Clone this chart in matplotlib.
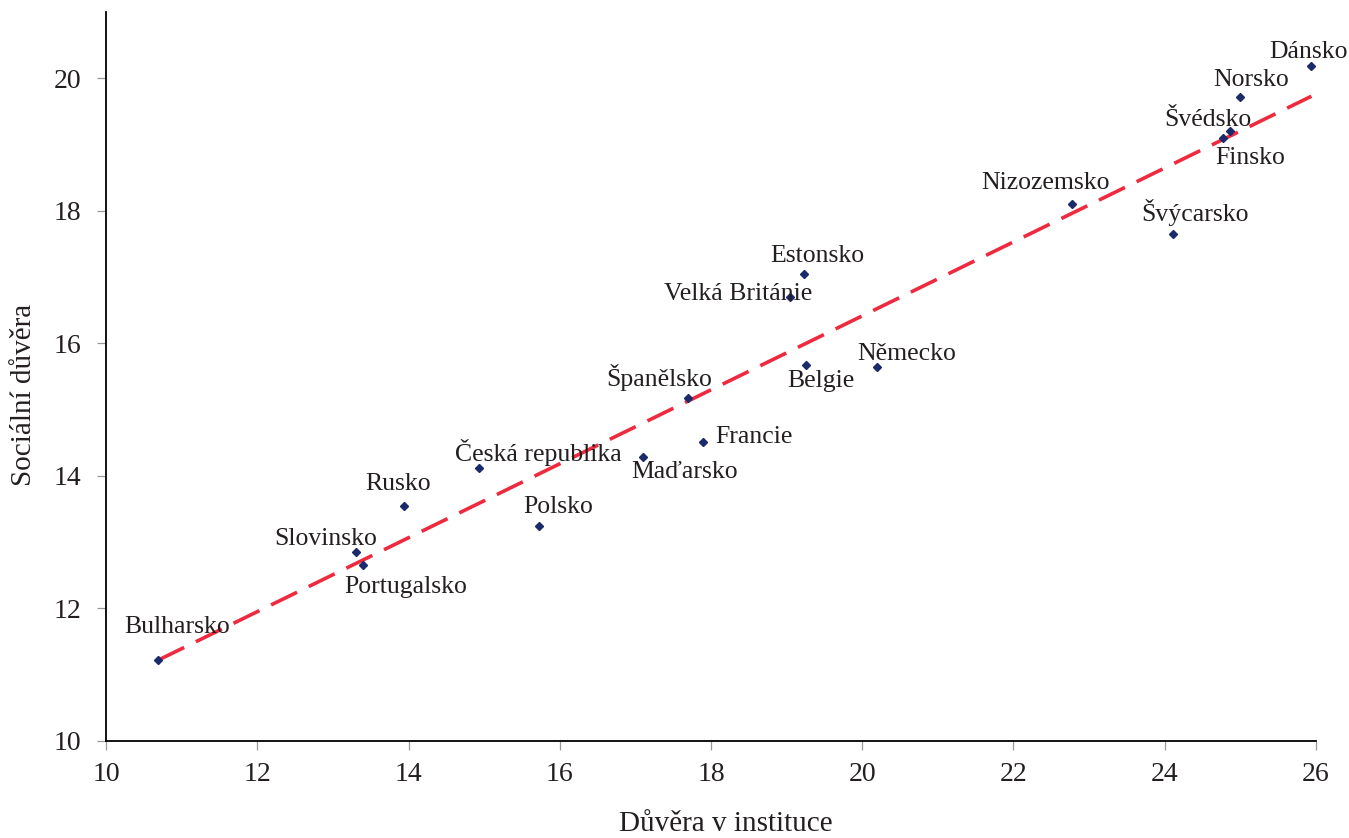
import numpy as np
import matplotlib
matplotlib.use("Agg")
import matplotlib.pyplot as plt

# důvěra v instituce (x) a sociální důvěra (y) podle zemí
countries = ["Dánsko", "Norsko", "Švédsko", "Finsko", "Švýcarsko", "Nizozemsko",
             "Estonsko", "Velká Británie", "Belgie", "Německo", "Španělsko",
             "Francie", "Maďarsko", "Česká republika", "Polsko", "Rusko",
             "Slovinsko", "Portugalsko", "Bulharsko"]
inst_trust = [25.94, 25.00, 24.87, 24.77, 24.11, 22.77,
              19.23, 19.05, 19.25, 20.19, 17.69,
              17.90, 17.10, 14.93, 15.73, 13.94,
              13.31, 13.40, 10.69]
social_trust = [20.18, 19.71, 19.20, 19.10, 17.65, 18.11,
                17.05, 16.70, 15.67, 15.65, 15.18,
                14.51, 14.29, 14.12, 13.25, 13.55,
                12.85, 12.65, 11.22]

# posun popisku od bodu v pixelech (x doprava, y nahoru k účaří)
label_dx = [-3, 11, -23, 27, 22, -26, 13, -52, 15, 30, -28, 51, 42, 60, 19, -6, -31, 43, 19]
label_dy = [8, 11, 5, -26, 13, 15, 12, -3, -22, 7, 12, -1, -21, 7, 13, 16, 7, -28, 27]

plt.rcParams['font.family'] = ['Liberation Serif', 'DejaVu Serif']
txt_col = '#231f20'

fig = plt.figure(figsize=(13.49, 8.38), dpi=100)
ax = fig.add_axes([0.0786, 0.1158, 0.8969, 0.8699])

x = np.array(inst_trust)
y = np.array(social_trust)

# lineární trend
k, q = np.polyfit(x, y, 1)
xt = np.array([x.min(), x.max()])
ax.plot(xt, k * xt + q, color='#ee2b3e', lw=2.6, linestyle=(0, (8, 3.6)), zorder=2)

ax.plot(x, y, linestyle='none', marker='D', ms=3.6, color='#1b2a6b', zorder=3)

for name, xi, yi, dx, dy in zip(countries, x, y, label_dx, label_dy):
    ax.annotate(name, (xi, yi), xytext=(dx, dy), textcoords='offset pixels',
                ha='center', va='baseline', fontsize=18.5, color=txt_col)

ax.set_xlim(10, 26)
ax.set_ylim(10, 21)
ax.set_xticks(np.arange(10, 27, 2))
ax.set_yticks(np.arange(10, 21, 2))

for s in ['top', 'right']:
    ax.spines[s].set_visible(False)
for s in ['left', 'bottom']:
    ax.spines[s].set_linewidth(1.3)
    ax.spines[s].set_color('black')

ax.tick_params(axis='both', direction='out', length=6.5, width=0.9, color='#999999',
               labelsize=20, labelcolor=txt_col)
ax.tick_params(axis='x', pad=9)
ax.tick_params(axis='y', pad=11)

# popisky os
fig.text(726 / 1349, 1 / 838, 'Důvěra v instituce', ha='center', va='bottom',
         fontsize=21, color=txt_col)
fig.text(24 / 1349, 1 - 395 / 838, 'Sociální důvěra', ha='center', va='center',
         rotation=90, fontsize=21, color=txt_col)

fig.savefig('out.png', dpi=100)
